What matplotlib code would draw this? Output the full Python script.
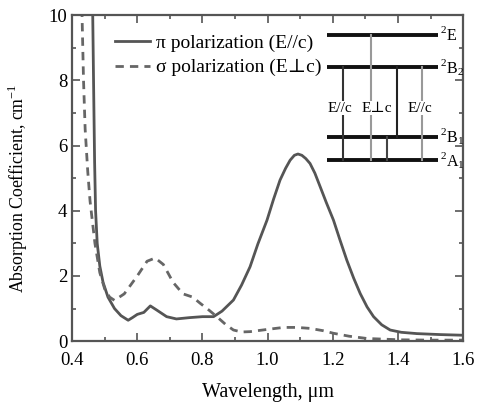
import matplotlib
matplotlib.use("Agg")
import matplotlib.pyplot as plt
from matplotlib.ticker import MultipleLocator

plt.rcParams['font.family'] = ['Liberation Serif', 'DejaVu Serif']
plt.rcParams['mathtext.fontset'] = 'custom'
plt.rcParams['mathtext.rm'] = 'Liberation Serif'

# π polarization (E//c)
pi_wl = [0.463, 0.466, 0.469, 0.472, 0.477, 0.485, 0.495, 0.51, 0.53, 0.55, 0.572,
         0.585, 0.6, 0.62, 0.64, 0.66, 0.69, 0.72, 0.76, 0.8, 0.834, 0.86,
         0.895, 0.92, 0.946, 0.97, 0.998, 1.018, 1.038, 1.055, 1.069, 1.082,
         1.093, 1.105, 1.117, 1.13, 1.145, 1.161, 1.18, 1.202, 1.222, 1.243,
         1.264, 1.284, 1.305, 1.325, 1.35, 1.376, 1.41, 1.458, 1.53, 1.6]
pi_val = [10.2, 7.8, 5.5, 4.0, 3.0, 2.3, 1.8, 1.35, 1.0, 0.78, 0.64,
          0.72, 0.82, 0.88, 1.08, 0.95, 0.75, 0.68, 0.72, 0.75, 0.75, 0.92,
          1.26, 1.72, 2.28, 2.98, 3.71, 4.35, 4.94, 5.3, 5.55, 5.7,
          5.74, 5.7, 5.6, 5.45, 5.15, 4.74, 4.25, 3.71, 3.1, 2.48,
          1.93, 1.46, 1.05, 0.75, 0.5, 0.34, 0.27, 0.23, 0.2, 0.18]

# σ polarization (E⊥c)
sg_wl = [0.43, 0.435, 0.44, 0.448, 0.455, 0.47, 0.485, 0.5, 0.515, 0.53, 0.56,
         0.6, 0.63, 0.655, 0.68, 0.71, 0.74, 0.77, 0.793, 0.82, 0.844, 0.87,
         0.895, 0.92, 0.946, 1.0, 1.049, 1.09, 1.13, 1.17, 1.202, 1.25,
         1.305, 1.407, 1.5, 1.6]
sg_val = [10.2, 8.0, 6.5, 5.2, 4.3, 3.0, 2.1, 1.6, 1.35, 1.25, 1.45,
          2.0, 2.45, 2.55, 2.35, 1.8, 1.45, 1.35, 1.16, 0.95, 0.75, 0.52,
          0.34, 0.28, 0.29, 0.36, 0.42, 0.42, 0.39, 0.32, 0.24, 0.15,
          0.08, 0.04, 0.03, 0.03]

# energy level diagram (in data coordinates of the inset)
levels = [9.39, 8.40, 6.26, 5.55]
level_labels = [r'$^{2}$E', r'$^{2}$B$_{2}$', r'$^{2}$B$_{1}$', r'$^{2}$A$_{1}$']
trans_x = [1.232, 1.318, 1.367, 1.398, 1.474]
trans_from = [8.40, 9.39, 6.26, 8.40, 8.40]
trans_to = [5.55, 5.55, 5.55, 6.26, 5.55]
trans_col = ['#333333', '#999999', '#444444', '#222222', '#999999']
trans_labels = ['E//c', 'E⊥c', 'E//c']
trans_label_x = [1.223, 1.336, 1.468]

fig = plt.figure(figsize=(4.84, 4.09), dpi=100)
ax = fig.add_axes([0.149, 0.166, 0.808, 0.797])

col = '#555555'
ax.plot(pi_wl, pi_val, color=col, lw=2.0, label='π polarization (E//c)')
ax.plot(sg_wl, sg_val, color='#666666', lw=2.0, ls=(0, (3, 2.2)), label='σ polarization (E⊥c)')

for y in levels:
    ax.plot([1.183, 1.523], [y, y], color='#111111', lw=2.8, solid_capstyle='butt')
for lab, y in zip(level_labels, levels):
    ax.text(1.528, y, lab, fontsize=11.5, va='center', ha='left')
for x, y0, y1, c in zip(trans_x, trans_from, trans_to, trans_col):
    ax.plot([x, x], [y0, y1], color=c, lw=1.5)
for x, lab in zip(trans_label_x, trans_labels):
    ax.text(x, 7.15, lab, fontsize=11, ha='center', va='center',
            bbox=dict(facecolor='white', edgecolor='none', pad=0.3))

ax.set_xlim(0.4, 1.6)
ax.set_ylim(0, 10)
ax.xaxis.set_major_locator(MultipleLocator(0.2))
ax.xaxis.set_minor_locator(MultipleLocator(0.1))
ax.yaxis.set_major_locator(MultipleLocator(2))
ax.yaxis.set_minor_locator(MultipleLocator(1))
ax.xaxis.set_major_formatter(plt.FuncFormatter(lambda v, p: f'{v:.1f}'))
ax.yaxis.set_major_formatter(plt.FuncFormatter(lambda v, p: f'{v:.0f}'))
ax.tick_params(which='both', direction='in', top=True, right=True, colors=col,
               labelcolor='black', labelsize=13.5, width=1.2)
ax.tick_params(which='major', length=6)
ax.tick_params(which='minor', length=3)
ax.tick_params(axis='x', pad=8)
for s in ax.spines.values():
    s.set_color(col)
    s.set_linewidth(1.6)

ax.set_xlabel('Wavelength, μm', fontsize=14.5, labelpad=10)
ax.set_ylabel('Absorption Coefficient, cm$^{-1}$', fontsize=12.8)
ax.yaxis.set_label_coords(-0.108, 0.47)

ax.legend(loc='upper left', bbox_to_anchor=(0.09, 0.965), frameon=False, fontsize=14,
          handlelength=1.8, handletextpad=0.3, labelspacing=0.35, borderaxespad=0)

fig.savefig('out.png', dpi=100)
